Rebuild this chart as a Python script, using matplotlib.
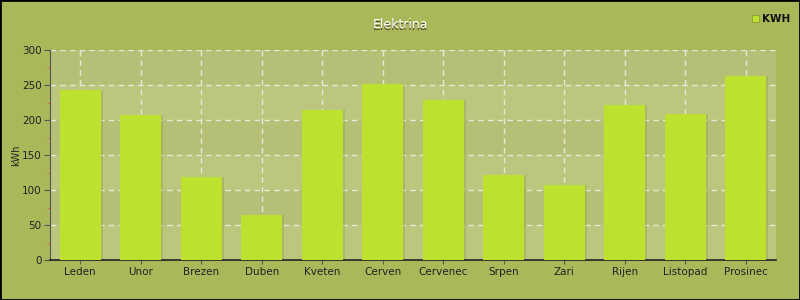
import matplotlib
matplotlib.use("Agg")
import matplotlib.pyplot as plt
from matplotlib.ticker import MultipleLocator
from matplotlib.patches import Rectangle

months = ["Leden", "Unor", "Brezen", "Duben", "Kveten", "Cerven", "Cervenec",
          "Srpen", "Zari", "Rijen", "Listopad", "Prosinec"]
kwh = [243, 207, 119, 65, 214, 251, 228, 121, 107, 222, 209, 263]
series_name = "KWH"
title = "Elektrina"
ylabel = "kWh"

bg = "#abb85a"
plot_a = "#b6bf76"
plot_b = "#bcc67e"
bar_c = "#bce12f"

fig = plt.figure(figsize=(8, 3), dpi=100, facecolor=bg)
ax = fig.add_axes([50/800, 40/300, 726/800, 210/300])
ax.set_facecolor(plot_b)

x = list(range(len(months)))
ax.set_xlim(-0.5, len(months) - 0.5)
ax.set_ylim(0, 300)

for i, lo in enumerate(range(0, 300, 50)):
    ax.axhspan(lo, lo + 50, color=plot_a if i % 2 == 1 else plot_b, zorder=0, lw=0)

ax.yaxis.set_major_locator(MultipleLocator(50))
ax.yaxis.set_minor_locator(MultipleLocator(25))
ax.set_xticks(x)
ax.set_xticklabels(months)
ax.grid(True, which="major", color="#e8e8d8", linestyle=(0, (4, 3)), linewidth=1, zorder=1)

# shadow
ax.bar([v + 0.03 for v in x], kwh, width=0.68, color="#8f9a40", alpha=0.35, zorder=2, lw=0)
ax.bar(x, kwh, width=0.68, color=bar_c, zorder=3, lw=0)

for s in ["top", "right"]:
    ax.spines[s].set_visible(False)
ax.spines["left"].set_color("#555555")
ax.spines["bottom"].set_color("#222222")
ax.spines["bottom"].set_linewidth(1.2)

ax.tick_params(axis="y", which="major", length=4, color="#555555", labelsize=7.5,
               labelcolor="#222222", pad=2)
ax.tick_params(axis="y", which="minor", length=2.5, color="#c87050", direction="out")
ax.tick_params(axis="x", length=3, color="#555555", labelsize=7.5, labelcolor="#222222", pad=2)

ax.set_ylabel(ylabel, fontsize=7, color="#222222")
ax.yaxis.set_label_coords(-(50 - 21) / 726, 0.5)

fig.text(400/800 + 0.001, 1 - 25/300 - 0.004, title, ha="center", va="center",
         fontsize=9, color="#555533")
fig.text(400/800, 1 - 25/300, title, ha="center", va="center", fontsize=9, color="white")

fig.patches.append(Rectangle((752/800, 1 - 22/300), 7/800, 7/300, transform=fig.transFigure,
                             facecolor=bar_c, edgecolor="#8f9a40", lw=0.6))
fig.text(762/800, 1 - 18.5/300, series_name, ha="left", va="center", fontsize=7.5,
         color="#111111", fontweight="bold")

fig.patches.append(Rectangle((0, 0), 1, 1, transform=fig.transFigure, fill=False,
                             edgecolor="black", lw=2))

fig.savefig("out.png", dpi=100, facecolor=bg)
